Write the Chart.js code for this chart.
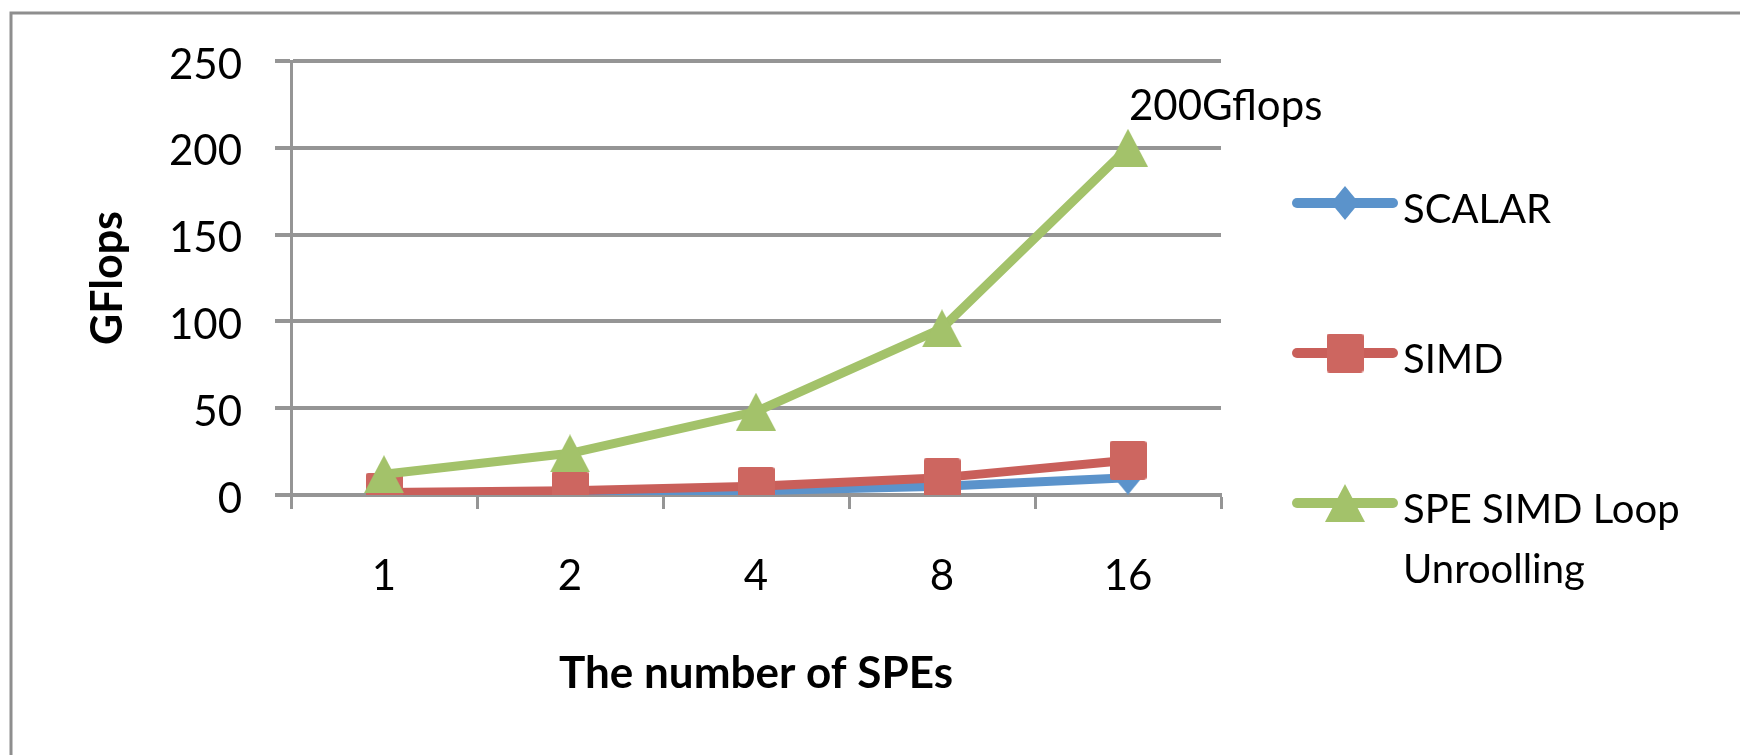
<!DOCTYPE html>
<html>
<head>
<meta charset="utf-8">
<script src="https://cdn.jsdelivr.net/npm/chart.js@4/dist/chart.umd.min.js"></script>
<style>
  html, body { margin: 0; padding: 0; background: #ffffff; }
  #wrap { position: relative; width: 1740px; height: 755px; }
</style>
</head>
<body>
<div id="wrap"><canvas id="c" width="1740" height="755"></canvas></div>
<script>
// Number of SPEs on the horizontal axis
const categories = ['1', '2', '4', '8', '16'];
// Throughput in GFlops per variant
const scalarValues = [0.6, 1.2, 2.5, 5, 10];
const simdValues = [1.5, 2.5, 5, 10, 20];
const unrollValues = [12, 24, 48, 96, 200];
const seriesNames = ['SCALAR', 'SIMD', ['SPE SIMD Loop', 'Unroolling']];
const yTicks = [0, 50, 100, 150, 200, 250];
const peakLabel = '200Gflops';

const FONT = "Lato, 'Open Sans', sans-serif";
const COLORS = {
  scalar: '#5B93CB',
  simd: '#C95F5A',
  simdMarker: '#CD6660',
  unroll: '#A3C26A'
};
const GRID = '#959595';

// Marker sprites, centred on their bounding box
function makeMarker(kind, color) {
  const c = document.createElement('canvas');
  const ctx = c.getContext('2d');
  if (kind === 'diamond') {
    c.width = 28; c.height = 34;
    ctx.fillStyle = color;
    ctx.beginPath();
    ctx.moveTo(14, 0); ctx.lineTo(28, 17); ctx.lineTo(14, 34); ctx.lineTo(0, 17);
    ctx.closePath(); ctx.fill();
  } else if (kind === 'square') {
    c.width = 37; c.height = 39;
    ctx.fillStyle = color;
    ctx.beginPath();
    ctx.roundRect(0, 0, 37, 39, 3);
    ctx.fill();
  } else {
    c.width = 40; c.height = 38;
    ctx.fillStyle = color;
    ctx.beginPath();
    ctx.moveTo(20, 0); ctx.lineTo(40, 38); ctx.lineTo(0, 38);
    ctx.closePath(); ctx.fill();
  }
  return c;
}

const markers = [
  makeMarker('diamond', COLORS.scalar),
  makeMarker('square', COLORS.simdMarker),
  makeMarker('triangle', COLORS.unroll)
];

// Frame, legend and the peak annotation
const decorations = {
  id: 'decorations',
  beforeDraw(chart) {
    const ctx = chart.ctx;
    ctx.save();
    ctx.strokeStyle = '#8E8E8E';
    ctx.lineWidth = 3;
    ctx.beginPath();
    ctx.moveTo(11, 760);
    ctx.lineTo(11, 13);
    ctx.lineTo(1745, 13);
    ctx.stroke();
    ctx.restore();
  },
  afterDraw(chart) {
    const ctx = chart.ctx;
    ctx.save();
    // legend
    const rowY = [203, 353, 503];
    ctx.font = '40px ' + FONT;
    ctx.fillStyle = '#000';
    ctx.textAlign = 'left';
    ctx.textBaseline = 'alphabetic';
    chart.data.datasets.forEach((ds, i) => {
      const y = rowY[i];
      ctx.strokeStyle = ds.borderColor;
      ctx.lineWidth = 10;
      ctx.lineCap = 'round';
      ctx.beginPath();
      ctx.moveTo(1297, y);
      ctx.lineTo(1393, y);
      ctx.stroke();
      const m = markers[i];
      ctx.drawImage(m, 1345 - m.width / 2, y - m.height / 2);
      const lines = Array.isArray(seriesNames[i]) ? seriesNames[i] : [seriesNames[i]];
      lines.forEach((t, k) => ctx.fillText(t, 1403, y + 20 + k * 60));
    });
    // peak label above the last point of the unrolled series
    const meta = chart.getDatasetMeta(2);
    const pt = meta.data[unrollValues.length - 1];
    ctx.font = '42px ' + FONT;
    ctx.fillText(peakLabel, pt.x + 1, pt.y - 28);
    ctx.restore();
  }
};

const dataset = (label, data, color, marker, order) => ({
  label, data,
  borderColor: color,
  backgroundColor: color,
  borderWidth: 9,
  borderJoinStyle: 'round',
  borderCapStyle: 'round',
  pointStyle: marker,
  pointRadius: 18,
  pointHoverRadius: 18,
  tension: 0,
  order
});

new Chart(document.getElementById('c'), {
  type: 'line',
  data: {
    labels: categories,
    datasets: [
      dataset('SCALAR', scalarValues, COLORS.scalar, markers[0], 2),
      dataset('SIMD', simdValues, COLORS.simd, markers[1], 1),
      dataset('SPE SIMD Loop Unroolling', unrollValues, COLORS.unroll, markers[2], 0)
    ]
  },
  options: {
    responsive: false,
    animation: false,
    devicePixelRatio: 1,
    layout: { padding: { top: 61, right: 519, bottom: 0, left: 0 } },
    plugins: {
      legend: { display: false },
      tooltip: { enabled: false }
    },
    scales: {
      x: {
        offset: true,
        grid: {
          offset: true,
          drawOnChartArea: false,
          drawTicks: true,
          tickLength: 14,
          tickWidth: 3,
          tickColor: GRID
        },
        border: { display: true, color: GRID, width: 4 },
        ticks: {
          color: '#000',
          font: { family: FONT, size: 42 },
          padding: 42
        },
        title: {
          display: true,
          text: 'The number of SPEs',
          color: '#000',
          font: { family: FONT, size: 44, weight: 'bold' },
          padding: { top: 0, bottom: 55 }
        },
        afterFit(scale) { scale.height = 260; }
      },
      y: {
        min: 0,
        max: 250,
        afterBuildTicks(scale) { scale.ticks = yTicks.map(v => ({ value: v })); },
        grid: {
          color: GRID,
          lineWidth: 4,
          tickLength: 16,
          tickColor: GRID,
          tickWidth: 4
        },
        border: { display: true, color: GRID, width: 3 },
        ticks: {
          color: '#000',
          font: { family: FONT, size: 42 },
          padding: 33,
          labelOffset: 4
        },
        title: {
          display: true,
          text: 'GFlops',
          color: '#000',
          font: { family: FONT, size: 43, weight: 'bold' },
          padding: { top: 82, bottom: 0 }
        },
        afterFit(scale) { scale.width = 291; }
      }
    }
  },
  plugins: [decorations]
});
</script>
</body>
</html>
